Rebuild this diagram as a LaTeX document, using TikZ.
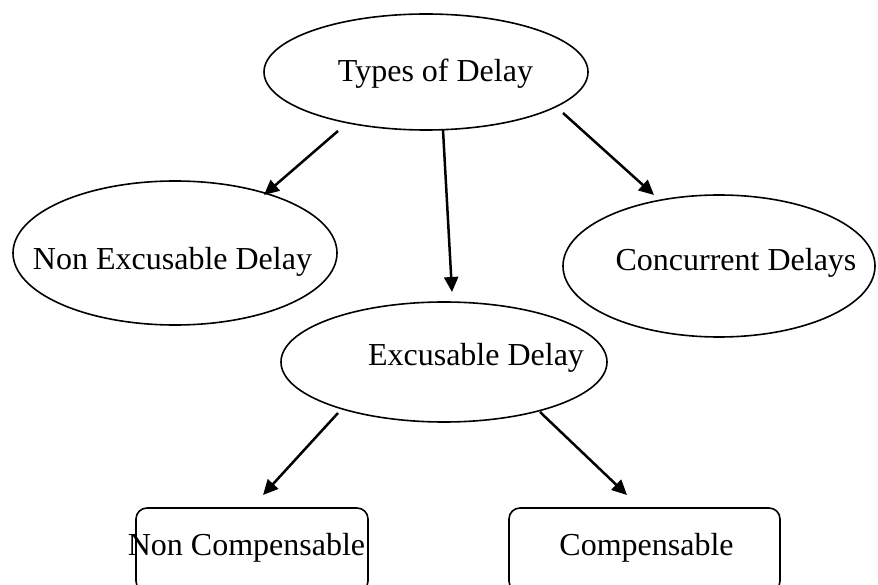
\documentclass[tikz,border=0pt]{standalone}
\usepackage{fontspec}
\setmainfont{Liberation Serif}
\usetikzlibrary{shapes.geometric,arrows.meta}
\tikzset{
  ell/.style={ellipse, draw, line width=1.6pt, inner sep=0pt, outer sep=0pt},
  boxnode/.style={rectangle, draw, rounded corners=11pt, line width=1.6pt, inner sep=0pt, outer sep=0pt},
  lbl/.style={anchor=base, inner sep=0pt, font=\fontsize{32}{38}\selectfont},
  arr/.style={line width=2.5pt, -{Triangle[length=15pt,width=14pt]}},
}
\begin{document}
\begin{tikzpicture}[x=1pt,y=-1pt]
\useasboundingbox (0,0) rectangle (878,585);
\clip (0,0) rectangle (878,585);
% shapes
\node[ell, minimum width=324pt, minimum height=116pt] (top) at (426,72) {};
\node[ell, minimum width=324pt, minimum height=144pt] (nex) at (175,253) {};
\node[ell, minimum width=312pt, minimum height=142pt] (con) at (719,266) {};
\node[ell, minimum width=326pt, minimum height=120pt] (exc) at (444,362) {};
\node[boxnode, minimum width=232pt, minimum height=84pt] (ncb) at (252,550) {};
\node[boxnode, minimum width=271pt, minimum height=84pt] (cb) at (644.5,550) {};
% labels
\node[lbl] (topl) at (435.5,82) {Types of Delay};
\node[lbl] (nexl) at (172.5,270) {Non Excusable Delay};
\node[lbl] (conl) at (736,271) {Concurrent Delays};
\node[lbl] (excl) at (476,365) {Excusable Delay};
\node[lbl] (ncbl) at (246.5,555) {Non Compensable};
\node[lbl] (cbl) at (646.5,555) {Compensable};
% connector end points
\coordinate (s1) at (338,131);
\coordinate (t1) at (264,195);
\coordinate (s2) at (443,130);
\coordinate (t2) at (452,292);
\coordinate (s3) at (563,113);
\coordinate (t3) at (654,195);
\coordinate (s4) at (338,413);
\coordinate (t4) at (263,495);
\coordinate (s5) at (540,412);
\coordinate (t5) at (627,495);
% connectors
\draw[arr] (s1) -- (t1);
\draw[arr] (s2) -- (t2);
\draw[arr] (s3) -- (t3);
\draw[arr] (s4) -- (t4);
\draw[arr] (s5) -- (t5);
\end{tikzpicture}
\end{document}
